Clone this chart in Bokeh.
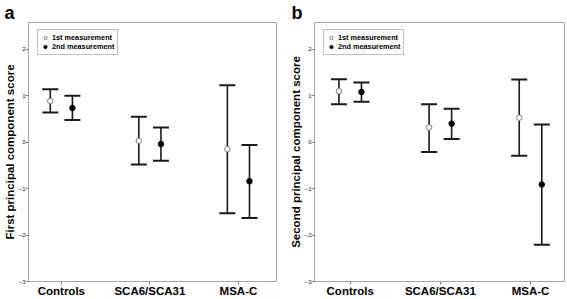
from bokeh.plotting import figure
from bokeh.models import ColumnDataSource, Whisker, TeeHead, Range1d, FixedTicker, Legend, LegendItem
from bokeh.layouts import row
from bokeh.embed import file_html
from bokeh.resources import INLINE

categories = ["Controls", "SCA6/SCA31", "MSA-C"]
cat_pos = [1, 2, 3]
y_ticks = [-3, -2, -1, 0, 1, 2]
series_names = ["1st measurement", "2nd measurement"]

# Panel a: first principal component score
a_m1_mean = [0.89, 0.03, -0.15]
a_m1_lo = [0.64, -0.48, -1.53]
a_m1_hi = [1.14, 0.55, 1.23]
a_m2_mean = [0.74, -0.04, -0.84]
a_m2_lo = [0.48, -0.40, -1.63]
a_m2_hi = [1.00, 0.32, -0.06]

# Panel b: second principal component score
b_m1_mean = [1.10, 0.32, 0.53]
b_m1_lo = [0.82, -0.21, -0.29]
b_m1_hi = [1.36, 0.82, 1.35]
b_m2_mean = [1.08, 0.40, -0.91]
b_m2_lo = [0.87, 0.07, -2.21]
b_m2_hi = [1.29, 0.72, 0.38]

FONT = "Liberation Sans"
OFFSET = 0.125
GRAY = "#a6a6a6"
BAR = "#1a1a1a"


def make_panel(letter, ytitle, m1, m2, width, xr, border_left, border_right, title_offset):
    p = figure(width=width, height=299, output_backend="svg", toolbar_location=None,
               x_range=Range1d(*xr), y_range=Range1d(-3, 2.58),
               min_border_left=border_left, min_border_right=border_right,
               min_border_top=0, min_border_bottom=16)
    p.grid.visible = False
    p.outline_line_color = GRAY
    p.outline_line_width = 1
    p.background_fill_color = "white"
    p.border_fill_color = "white"

    p.title.text = letter
    p.title.text_font = FONT
    p.title.text_font_style = "bold"
    p.title.text_font_size = "18px"
    p.title.text_color = "black"
    p.title.align = "left"
    p.title.offset = title_offset
    p.title.standoff = 0

    p.xaxis.ticker = FixedTicker(ticks=cat_pos)
    p.xaxis.major_label_overrides = {c: lab for c, lab in zip(cat_pos, categories)}
    p.xaxis.major_label_text_font = FONT
    p.xaxis.major_label_text_font_style = "bold"
    p.xaxis.major_label_text_font_size = "11.5px"
    p.xaxis.major_label_text_color = "black"
    p.xaxis.major_label_standoff = 0

    p.yaxis.ticker = FixedTicker(ticks=y_ticks)
    p.yaxis.major_label_text_font = FONT
    p.yaxis.major_label_text_font_size = "6px"
    p.yaxis.major_label_text_color = "#222222"
    p.yaxis.major_label_standoff = 0
    p.yaxis.axis_label = ytitle
    p.yaxis.axis_label_text_font = FONT
    p.yaxis.axis_label_text_font_style = "bold"
    p.yaxis.axis_label_text_font_size = "11.5px"
    p.yaxis.axis_label_text_color = "black"
    p.yaxis.axis_label_standoff = 0

    for ax in (p.xaxis, p.yaxis):
        ax.axis_line_color = GRAY
        ax.major_tick_line_color = "#808080"
        ax.major_tick_in = 0
        ax.major_tick_out = 3
        ax.minor_tick_line_color = None

    renderers = []
    for k, (mean, lo, hi) in enumerate((m1, m2)):
        xs = [c + (OFFSET if k else -OFFSET) for c in cat_pos]
        src = ColumnDataSource(dict(x=xs, mean=mean, lo=lo, hi=hi))
        w = Whisker(source=src, base="x", lower="lo", upper="hi", dimension="height",
                    line_color=BAR, line_width=1.6, level="underlay",
                    upper_head=TeeHead(size=16, line_width=2, line_color=BAR),
                    lower_head=TeeHead(size=16, line_width=2, line_color=BAR))
        p.add_layout(w)
        if k == 0:
            r = p.scatter("x", "mean", source=src, size=5.5, marker="circle",
                          fill_color="white", line_color="#808080", line_width=1)
        else:
            r = p.scatter("x", "mean", source=src, size=5.5, marker="circle",
                          fill_color="black", line_color="black", line_width=1)
        renderers.append(r)

    legend = Legend(items=[LegendItem(label=series_names[i], renderers=[renderers[i]]) for i in range(2)],
                    location=(9, 226))
    legend.label_text_font = FONT
    legend.label_text_font_size = "7.3px"
    legend.label_text_font_style = "bold"
    legend.label_text_color = "black"
    legend.glyph_width = 8
    legend.glyph_height = 9
    legend.label_height = 9
    legend.label_standoff = 3
    legend.spacing = 0
    legend.padding = 3
    legend.margin = 0
    legend.border_line_color = "#808080"
    legend.border_line_width = 1
    legend.background_fill_alpha = 1
    p.add_layout(legend, "center")
    return p


pa = make_panel("a", "First principal component score", (a_m1_mean, a_m1_lo, a_m1_hi),
                (a_m2_mean, a_m2_lo, a_m2_hi), 283, (0.629, 3.43), 25, 7, -24)
pb = make_panel("b", "Second principal component score", (b_m1_mean, b_m1_lo, b_m1_hi),
                (b_m2_mean, b_m2_lo, b_m2_hi), 284, (0.604, 3.377), 31, 3, -23)

p = row(pa, pb)
open("out.html", "w").write(file_html(p, INLINE))
